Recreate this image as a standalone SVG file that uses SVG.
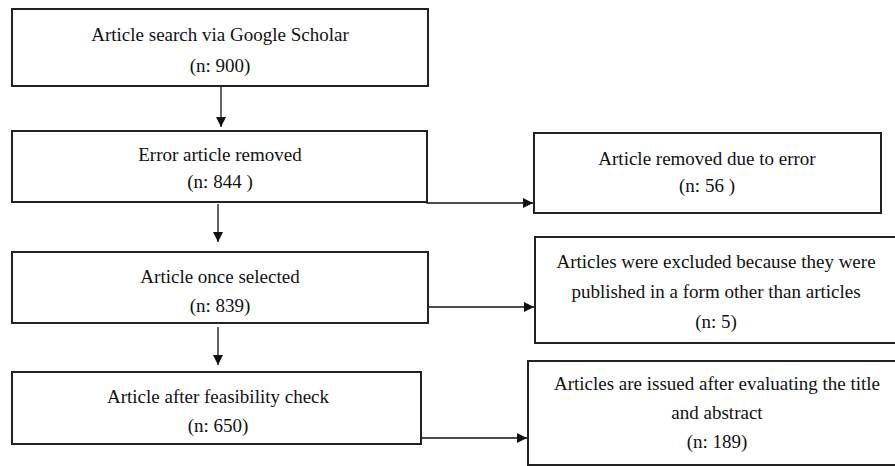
<svg xmlns="http://www.w3.org/2000/svg" width="895" height="466" viewBox="0 0 895 466">
<style>
.box{fill:#fff;stroke:#222;stroke-width:2}
.t{font-family:'Times New Roman','Liberation Serif',Tinos,'DejaVu Serif',serif;font-size:19px;fill:#111;text-anchor:middle}
.c{fill:none;stroke:#111;stroke-width:1.3}
</style>
<defs>
<marker id="ah" viewBox="0 0 10 10" refX="10" refY="5" markerWidth="10" markerHeight="10" markerUnits="userSpaceOnUse" orient="auto">
<path d="M0,0 L10,5 L0,10 Z" fill="#111"/>
</marker>
</defs>
<rect width="895" height="466" fill="#fff"/>
<g id="connectors">
<line class="c" x1="221" y1="87" x2="221" y2="127" marker-end="url(#ah)"/>
<polyline class="c" points="427,202 427,203 533,203" marker-end="url(#ah)"/>
<line class="c" x1="218" y1="204" x2="218" y2="242" marker-end="url(#ah)"/>
<line class="c" x1="428" y1="307" x2="534" y2="307" marker-end="url(#ah)"/>
<line class="c" x1="218" y1="327" x2="218" y2="365" marker-end="url(#ah)"/>
<line class="c" x1="421" y1="438" x2="527" y2="438" marker-end="url(#ah)"/>
</g>
<g id="n1">
<rect class="box" x="12" y="9" width="416" height="77"/>
<text class="t" x="220" y="41">Article search via Google Scholar</text>
<text class="t" x="220" y="72">(n: 900)</text>
</g>
<g id="n2">
<rect class="box" x="12" y="131" width="415" height="71"/>
<text class="t" x="220" y="161">Error article removed</text>
<text class="t" x="220" y="188">(n: 844 )</text>
</g>
<g id="n3">
<rect class="box" x="534" y="133" width="347" height="80"/>
<text class="t" x="707" y="165">Article removed due to error</text>
<text class="t" x="707" y="192">(n: 56 )</text>
</g>
<g id="n4">
<rect class="box" x="12" y="252" width="416" height="71"/>
<text class="t" x="220" y="283">Article once selected</text>
<text class="t" x="220" y="312">(n: 839)</text>
</g>
<g id="n5">
<rect class="box" x="535" y="237" width="370" height="106"/>
<text class="t" x="716" y="268">Articles were excluded because they were</text>
<text class="t" x="716" y="298">published in a form other than articles</text>
<text class="t" x="716" y="328">(n: 5)</text>
</g>
<g id="n6">
<rect class="box" x="12" y="372" width="409" height="72"/>
<text class="t" x="218" y="403">Article after feasibility check</text>
<text class="t" x="218" y="432">(n: 650)</text>
</g>
<g id="n7">
<rect class="box" x="528" y="361" width="380" height="104"/>
<text class="t" x="717" y="390">Articles are issued after evaluating the title</text>
<text class="t" x="717" y="419">and abstract</text>
<text class="t" x="717" y="448">(n: 189)</text>
</g>
</svg>
